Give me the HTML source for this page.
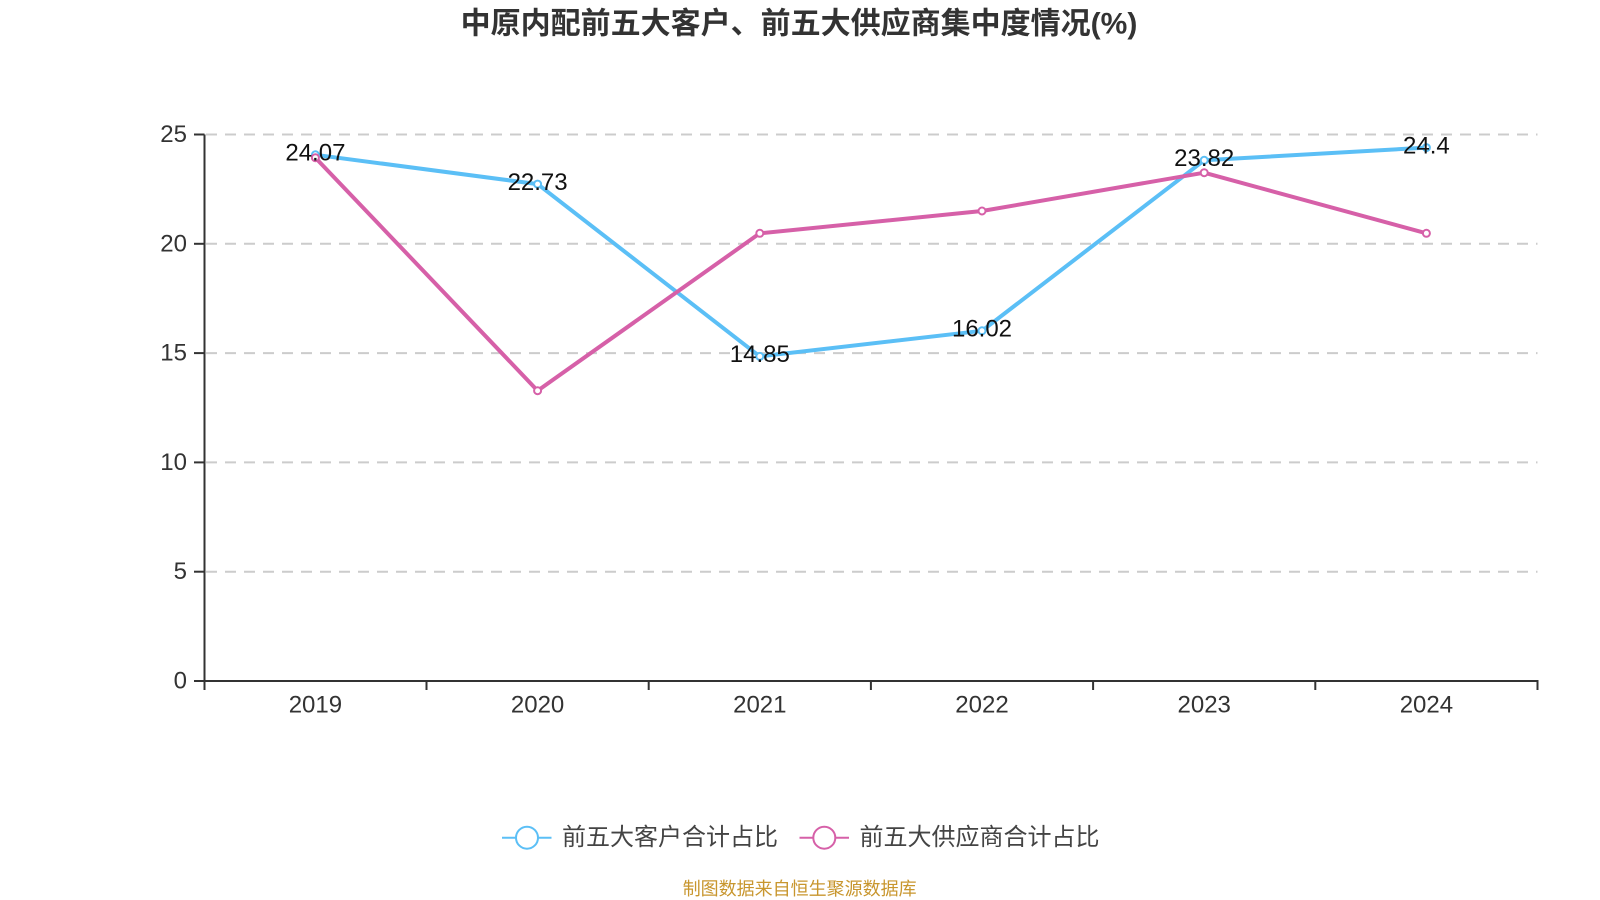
<!DOCTYPE html>
<html>
<head>
<meta charset="utf-8">
<style>
  html, body { margin: 0; padding: 0; background: #ffffff; }
  body { width: 1600px; height: 900px; overflow: hidden; }
  svg { display: block; }
  .lat { font-family: "Liberation Sans", "Noto Sans CJK SC", sans-serif; }
  .cjk { font-family: "Liberation Sans", "Noto Sans CJK SC", sans-serif; }
</style>
</head>
<body>
<svg width="1600" height="900" viewBox="0 0 1600 900" xmlns="http://www.w3.org/2000/svg">
  <rect width="1600" height="900" fill="#ffffff"/>

  <!-- Title -->
  <text x="799" y="24" text-anchor="middle" dominant-baseline="central" class="cjk" font-size="30" font-weight="bold" fill="#333333">中原内配前五大客户、前五大供应商集中度情况(%)</text>

  <!-- Grid lines -->
  <g stroke="#cccccc" stroke-width="2" stroke-dasharray="11 8" fill="none">
    <line x1="206" y1="134.5" x2="1537.5" y2="134.5"/>
    <line x1="206" y1="243.8" x2="1537.5" y2="243.8"/>
    <line x1="206" y1="353.1" x2="1537.5" y2="353.1"/>
    <line x1="206" y1="462.4" x2="1537.5" y2="462.4"/>
    <line x1="206" y1="571.7" x2="1537.5" y2="571.7"/>
  </g>

  <!-- Axes -->
  <g stroke="#333333" stroke-width="2" fill="none">
    <line x1="204.5" y1="134.5" x2="204.5" y2="681"/>
    <line x1="203.5" y1="681" x2="1538.5" y2="681"/>
    <!-- y ticks -->
    <line x1="194" y1="134.5" x2="204.5" y2="134.5"/>
    <line x1="194" y1="243.8" x2="204.5" y2="243.8"/>
    <line x1="194" y1="353.1" x2="204.5" y2="353.1"/>
    <line x1="194" y1="462.4" x2="204.5" y2="462.4"/>
    <line x1="194" y1="571.7" x2="204.5" y2="571.7"/>
    <line x1="194" y1="681" x2="204.5" y2="681"/>
    <!-- x ticks -->
    <line x1="204.5" y1="681" x2="204.5" y2="690"/>
    <line x1="426.5" y1="681" x2="426.5" y2="690"/>
    <line x1="648.7" y1="681" x2="648.7" y2="690"/>
    <line x1="870.9" y1="681" x2="870.9" y2="690"/>
    <line x1="1093.1" y1="681" x2="1093.1" y2="690"/>
    <line x1="1315.3" y1="681" x2="1315.3" y2="690"/>
    <line x1="1537.5" y1="681" x2="1537.5" y2="690"/>
  </g>

  <!-- Y labels -->
  <g class="lat" font-size="24" fill="#333333" text-anchor="end" dominant-baseline="central">
    <text x="187" y="134.5">25</text>
    <text x="187" y="243.8">20</text>
    <text x="187" y="353.1">15</text>
    <text x="187" y="462.4">10</text>
    <text x="187" y="571.7">5</text>
    <text x="187" y="681">0</text>
  </g>

  <!-- X labels -->
  <g class="lat" font-size="24" fill="#333333" text-anchor="middle" dominant-baseline="central">
    <text x="315.4" y="705">2019</text>
    <text x="537.6" y="705">2020</text>
    <text x="759.8" y="705">2021</text>
    <text x="982" y="705">2022</text>
    <text x="1204.2" y="705">2023</text>
    <text x="1426.4" y="705">2024</text>
  </g>

  <!-- Blue series -->
  <polyline fill="none" stroke="#5bbff6" stroke-width="4" stroke-linejoin="round"
    points="315.4,154.8 537.6,184.1 759.8,356.4 982,330.8 1204.2,160.3 1426.4,147.6"/>
  <g fill="#ffffff" stroke="#5bbff6" stroke-width="2">
    <circle cx="315.4" cy="154.8" r="3.5"/>
    <circle cx="537.6" cy="184.1" r="3.5"/>
    <circle cx="759.8" cy="356.4" r="3.5"/>
    <circle cx="982" cy="330.8" r="3.5"/>
    <circle cx="1204.2" cy="160.3" r="3.5"/>
    <circle cx="1426.4" cy="147.6" r="3.5"/>
  </g>

  <!-- Pink series -->
  <polyline fill="none" stroke="#d660a8" stroke-width="4" stroke-linejoin="round"
    points="315.4,157.7 537.6,390.7 759.8,233.3 982,211 1204.2,172.7 1426.4,233.3"/>
  <g fill="#ffffff" stroke="#d660a8" stroke-width="2">
    <circle cx="315.4" cy="157.7" r="3.5"/>
    <circle cx="537.6" cy="390.7" r="3.5"/>
    <circle cx="759.8" cy="233.3" r="3.5"/>
    <circle cx="982" cy="211" r="3.5"/>
    <circle cx="1204.2" cy="172.7" r="3.5"/>
    <circle cx="1426.4" cy="233.3" r="3.5"/>
  </g>

  <!-- Data labels -->
  <g class="lat" font-size="24" fill="#111111" text-anchor="middle" dominant-baseline="central">
    <text x="315.4" y="153">24.07</text>
    <text x="537.6" y="182.5">22.73</text>
    <text x="759.8" y="354.5">14.85</text>
    <text x="982" y="329">16.02</text>
    <text x="1204.2" y="158.5">23.82</text>
    <text x="1426.4" y="146">24.4</text>
  </g>

  <!-- Legend -->
  <g>
    <line x1="502" y1="837.7" x2="551.5" y2="837.7" stroke="#5bbff6" stroke-width="2"/>
    <circle cx="527" cy="837.7" r="11" fill="#ffffff" stroke="#5bbff6" stroke-width="2"/>
    <text x="562" y="837.7" class="cjk" font-size="24" fill="#444444" dominant-baseline="central">前五大客户合计占比</text>

    <line x1="799.5" y1="837.7" x2="849" y2="837.7" stroke="#d660a8" stroke-width="2"/>
    <circle cx="824.3" cy="837.7" r="11" fill="#ffffff" stroke="#d660a8" stroke-width="2"/>
    <text x="859.5" y="837.7" class="cjk" font-size="24" fill="#444444" dominant-baseline="central">前五大供应商合计占比</text>
  </g>

  <!-- Source -->
  <text x="799.7" y="889" text-anchor="middle" dominant-baseline="central" class="cjk" font-size="18" fill="#c8962e">制图数据来自恒生聚源数据库</text>
</svg>
</body>
</html>
